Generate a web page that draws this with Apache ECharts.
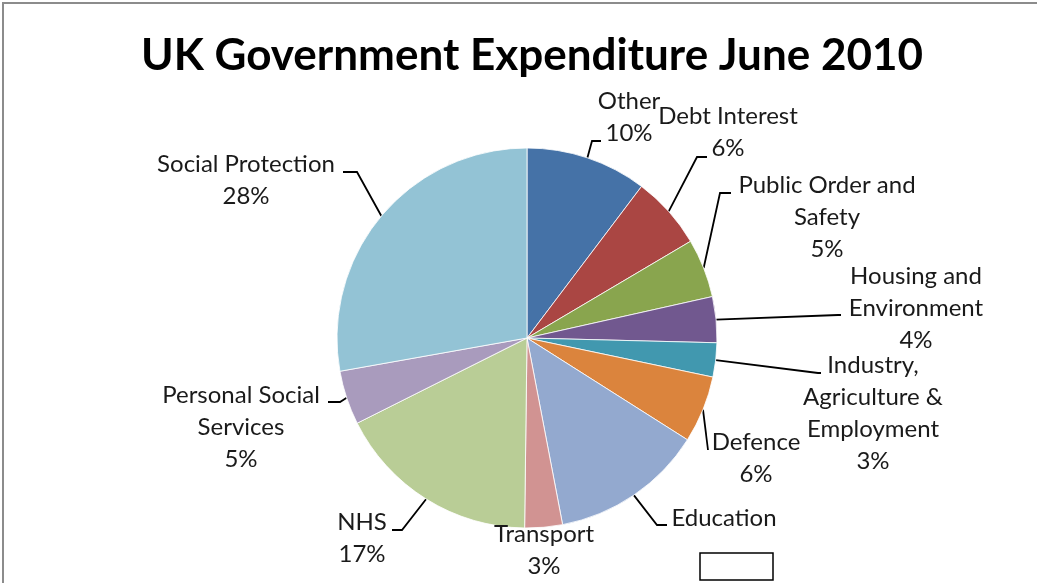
<!DOCTYPE html>
<html>
<head>
<meta charset="utf-8">
<script src="https://cdn.jsdelivr.net/npm/echarts@6/dist/echarts.min.js"></script>
<style>html,body{margin:0;padding:0;background:#fff;}#c{width:1037px;height:583px;}</style>
</head>
<body>
<div id="c"></div>
<script>
const categories = ['Other','Debt Interest','Public Order and Safety','Housing and Environment','Industry, Agriculture & Employment','Defence','Education','Transport','NHS','Personal Social Services','Social Protection'];
const values = [10.3, 6.2, 5.0, 3.9, 2.9, 5.7, 13.0, 3.2, 17.4, 4.6, 27.8];
const labelTexts = ['Other','Debt Interest','Public Order and\nSafety','Housing and\nEnvironment','Industry,\nAgriculture &\nEmployment','Defence','Education','Transport','NHS','Personal Social\nServices','Social Protection'];
const showPercent = [true,true,true,true,true,true,false,true,true,true,true];
const colors = ['#4572A7','#AA4643','#89A54E','#71588F','#4198AF','#DB843D','#93A9CF','#D19392','#B9CD96','#A99BBD','#93C3D5'];

// layout (style) : label centres and leader-line bends
const labelCenters = [[629,117],[728,132],[827,217],[916,308],[873,413],[756,458],[724,518],[544,550],[362,538],[241,427],[246,180]];
const elbows = [[592,141],[697,157],[720,193],[838,315],[818,373],[708,450],[657,525],null,[402,530],[340,402],[357,172]];
const ends = [[601,141],[707,157],[731,193],[841,315],[821,373],[708,450],[667,525],null,[392,530],[328,402],[343,172]];
const CX = 527, CY = 338, R = 190;

const total = values.reduce((a,b)=>a+b,0);
const mids = [];
let cum = 0;
values.forEach(v => { mids.push((cum + v/2)/total * 2*Math.PI); cum += v; });

const chart = echarts.init(document.getElementById('c'));
chart.setOption({
  animation: false,
  color: colors,
  title: {
    text: 'UK Government Expenditure June 2010',
    left: 527,
    textAlign: 'center',
    top: 29,
    textStyle: { fontFamily: 'Lato', fontWeight: 'bold', fontSize: 44, color: '#000' }
  },
  graphic: [
    { type: 'rect', shape: { x: 3, y: 3, width: 1045, height: 600 }, style: { fill: 'none', stroke: '#8c8c8c', lineWidth: 2 }, z: 100 },
    { type: 'rect', shape: { x: 700, y: 553, width: 73, height: 27 }, style: { fill: '#fff', stroke: '#000', lineWidth: 1.5 }, z: 100 }
  ],
  series: [{
    type: 'pie',
    center: [CX, CY],
    radius: R,
    startAngle: 90,
    clockwise: true,
    percentPrecision: 0,
    avoidLabelOverlap: false,
    itemStyle: { borderColor: '#fff', borderWidth: 0.8 },
    label: {
      show: true,
      fontFamily: 'Lato',
      fontSize: 24,
      lineHeight: 32,
      color: '#1a1a1a',
      align: 'center',
      formatter: function (p) {
        const i = p.dataIndex;
        return showPercent[i] ? labelTexts[i] + '\n' + p.percent + '%' : labelTexts[i];
      }
    },
    labelLine: { show: true, lineStyle: { color: '#000', width: 1.8 } },
    labelLayout: function (params) {
      const i = params.dataIndex;
      const res = { x: labelCenters[i][0], y: labelCenters[i][1], align: 'center', verticalAlign: 'middle' };
      if (elbows[i]) {
        const a = mids[i];
        const edge = [CX + R * Math.sin(a), CY - R * Math.cos(a)];
        res.labelLinePoints = [edge, elbows[i], ends[i]];
      }
      return res;
    },
    data: categories.map((c, i) => ({
      name: c,
      value: values[i],
      labelLine: { show: !!elbows[i] }
    }))
  }]
});
</script>
</body>
</html>
